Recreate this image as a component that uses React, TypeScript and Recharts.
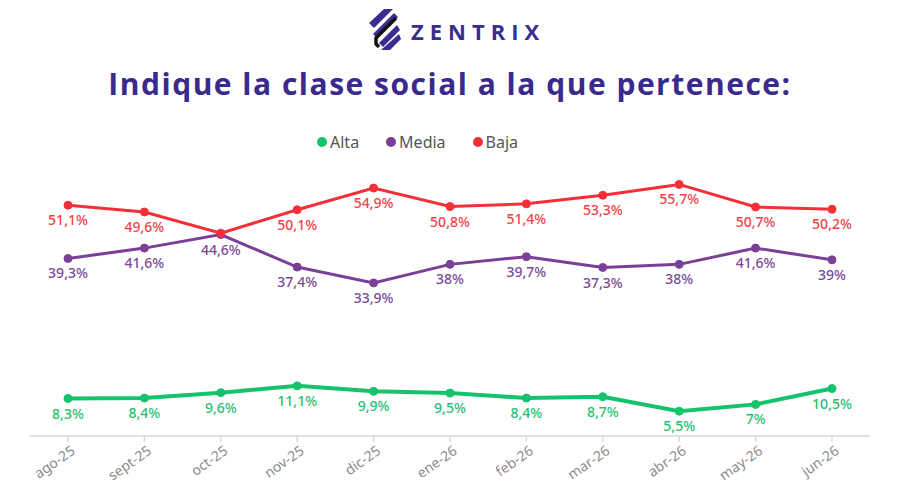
import React from 'react';
import { LineChart, Line, XAxis, YAxis, LabelList } from 'recharts';

// Monthly share (%) of respondents by self-reported social class
const months = ['ago-25', 'sept-25', 'oct-25', 'nov-25', 'dic-25', 'ene-26', 'feb-26', 'mar-26', 'abr-26', 'may-26', 'jun-26'];
const alta = [8.3, 8.4, 9.6, 11.1, 9.9, 9.5, 8.4, 8.7, 5.5, 7, 10.5];
const media = [39.3, 41.6, 44.6, 37.4, 33.9, 38, 39.7, 37.3, 38, 41.6, 39];
const baja = [51.1, 49.6, 44.9, 50.1, 54.9, 50.8, 51.4, 53.3, 55.7, 50.7, 50.2];
// Months whose Baja value label is left out (it overlaps the Media label)
const bajaUnlabelled = ['oct-25'];

const seriesList = [
  { key: 'alta', name: 'Alta', color: '#16C26B', labelColor: '#27BF72', width: 4 },
  { key: 'media', name: 'Media', color: '#7A3F96', labelColor: '#7A4A96', width: 3 },
  { key: 'baja', name: 'Baja', color: '#F52F38', labelColor: '#F2414A', width: 3 },
];

const rows = months.map((m, i) => ({ month: m, alta: alta[i], media: media[i], baja: baja[i] }));

const fmt = (v: number) => String(v).replace('.', ',') + '%';

const makeLabel = (color: string, skip: string[]) => (props: any) => {
  const { x, y, value, index } = props;
  if (skip.includes(months[index])) return null;
  return (
    <text
      x={x}
      y={y + 20}
      textAnchor="middle"
      fill={color}
      fontSize={14}
      fontWeight={500}
      fontFamily="'Noto Sans', sans-serif"
    >
      {fmt(value)}
    </text>
  );
};

const MonthTick = (props: any) => {
  const { x, y, payload } = props;
  const tx = x + 8;
  const ty = y + 9;
  return (
    <text
      x={tx}
      y={ty}
      textAnchor="end"
      fill="#8a8a8a"
      fontSize={14}
      fontFamily="'Noto Sans', sans-serif"
      transform={`rotate(-35, ${tx}, ${ty})`}
    >
      {payload.value}
    </text>
  );
};

const Logo = () => (
  <svg width={44} height={48} viewBox="0 0 44 48" style={{ position: 'absolute', left: 360, top: 5 }}>
    <polygon points="24,4 33,4 14,23 9,18" fill="#3B2C8F" />
    <polygon points="34,8 38,12 17,33 13,29" fill="#3B2C8F" />
    <path d="M36,13 L16,33 L16,39 L19,42" stroke="#111" strokeWidth={3.5} fill="none" strokeLinejoin="round" />
    <polygon points="37,20 40,25 23,42 19,38" fill="#3B2C8F" />
    <polygon points="39,29 41,34 30,45 21,45" fill="#3B2C8F" />
  </svg>
);

export default function App() {
  return (
    <div style={{ position: 'fixed', left: 0, top: 0, width: 900, height: 485, background: '#fff', overflow: 'hidden' }}>
      <Logo />
      <div
        style={{
          position: 'absolute',
          left: 411,
          top: 16,
          fontFamily: "'Open Sans', sans-serif",
          fontWeight: 700,
          fontSize: 22,
          letterSpacing: 6,
          color: '#3B2C8F',
          lineHeight: '30px',
        }}
      >
        ZENTRIX
      </div>
      <div
        style={{
          position: 'absolute',
          left: 0,
          width: 900,
          top: 64,
          textAlign: 'center',
          fontFamily: "'Open Sans', sans-serif",
          fontWeight: 700,
          fontSize: 30,
          letterSpacing: 1.5,
          color: '#3A2A8C',
          lineHeight: '40px',
        }}
      >
        Indique la clase social a la que pertenece:
      </div>
      <div
        style={{
          position: 'absolute',
          left: 317,
          top: 132,
          display: 'flex',
          gap: 27,
          fontFamily: "'Noto Sans', sans-serif",
          fontSize: 16,
          color: '#555',
          lineHeight: '20px',
        }}
      >
        {seriesList.map((s) => (
          <div key={s.key} style={{ display: 'flex', alignItems: 'center', gap: 3 }}>
            <span style={{ width: 10, height: 10, borderRadius: 5, background: s.color, display: 'inline-block' }} />
            <span>{s.name}</span>
          </div>
        ))}
      </div>
      <div style={{ position: 'absolute', left: 0, top: 0 }}>
        <LineChart width={900} height={485} data={rows} margin={{ top: 165, right: 30, bottom: 4, left: 30 }}>
          <XAxis
            dataKey="month"
            height={45}
            padding={{ left: 38, right: 38 }}
            stroke="#d9d9d9"
            strokeWidth={1.5}
            tickSize={6}
            tick={<MonthTick />}
            interval={0}
          />
          <YAxis hide domain={[0, 60]} />
          {seriesList.map((s) => (
            <Line
              key={s.key}
              dataKey={s.key}
              name={s.name}
              stroke={s.color}
              strokeWidth={s.width}
              dot={{ r: 4, fill: s.color, stroke: s.color, strokeWidth: 1 }}
              activeDot={false}
              isAnimationActive={false}
            >
              <LabelList dataKey={s.key} content={makeLabel(s.labelColor, s.key === 'baja' ? bajaUnlabelled : [])} />
            </Line>
          ))}
        </LineChart>
      </div>
    </div>
  );
}
